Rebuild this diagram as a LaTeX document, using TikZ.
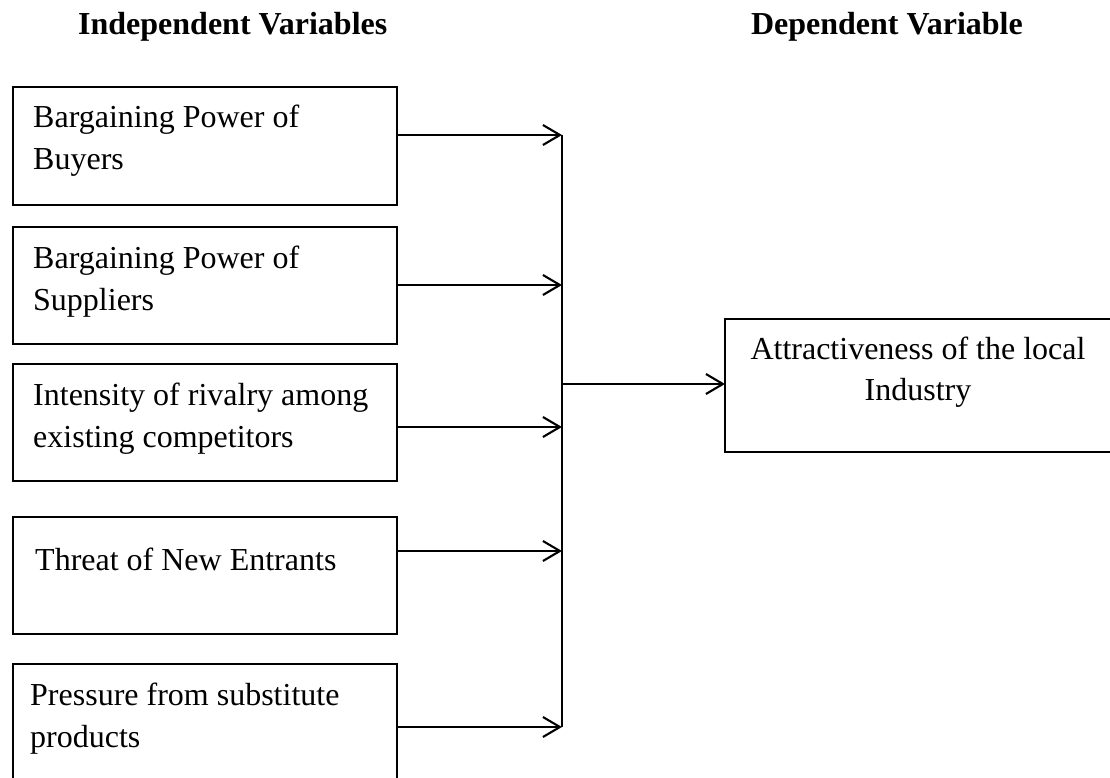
\documentclass[tikz,border=0pt]{standalone}
\usepackage{fontspec}
\setmainfont{Liberation Serif}
\usetikzlibrary{arrows.meta}
\begin{document}
\begin{tikzpicture}[x=1pt,y=-1pt,
  box/.style={draw=black,line width=2.1pt,rectangle,inner sep=0pt,outer sep=0pt},
  lbl/.style={anchor=base west,inner sep=0pt,font=\fontsize{32}{42}\selectfont},
  clbl/.style={anchor=base,inner sep=0pt,font=\fontsize{32}{42}\selectfont},
  head/.style={inner sep=0pt,font=\fontsize{32}{42}\selectfont\bfseries},
  arr/.style={line width=2.1pt,-{Straight Barb[length=17pt,width=20pt,line width=2.1pt]}},
  bus/.style={line width=2.1pt}]
\clip (0,0) rectangle (1110,778);
% boxes
\node[box,minimum width=384pt,minimum height=118pt,anchor=north west] (b1) at (13,87) {};
\node[box,minimum width=384pt,minimum height=117pt,anchor=north west] (b2) at (13,227) {};
\node[box,minimum width=384pt,minimum height=117pt,anchor=north west] (b3) at (13,364) {};
\node[box,minimum width=384pt,minimum height=117pt,anchor=north west] (b4) at (13,517) {};
\node[box,minimum width=384pt,minimum height=117pt,anchor=north west] (b5) at (13,664) {};
\node[box,minimum width=392pt,minimum height=133pt,anchor=north west] (dv) at (725,319) {};
% texts
\node[head,anchor=base west] (h1) at (78,35) {Independent Variables};
\node[head,anchor=base east] (h2) at (1023,35) {Dependent Variable};
\node[lbl] (t1a) at (33,128) {Bargaining Power of};
\node[lbl] (t1b) at (33,170) {Buyers};
\node[lbl] (t2a) at (33,268) {Bargaining Power of};
\node[lbl] (t2b) at (33,310) {Suppliers};
\node[lbl] (t3a) at (33,405) {Intensity of rivalry among};
\node[lbl] (t3b) at (33,447) {existing competitors};
\node[lbl] (t4a) at (35,570) {Threat of New Entrants};
\node[lbl] (t5a) at (30,705) {Pressure from substitute};
\node[lbl] (t5b) at (30,747) {products};
\node[clbl] (ta) at (918,359) {Attractiveness of the local};
\node[clbl] (tb) at (918,400) {Industry};
% bus junctions
\coordinate (j1) at (562,135);
\coordinate (j2) at (562,285);
\coordinate (j3) at (562,427);
\coordinate (j4) at (562,551);
\coordinate (j5) at (562,727);
\coordinate (jo) at (562,384);
% connectors
\draw[arr] (b1.east |- j1) -- (j1);
\draw[arr] (b2.east |- j2) -- (j2);
\draw[arr] (b3.east |- j3) -- (j3);
\draw[arr] (b4.east |- j4) -- (j4);
\draw[arr] (b5.east |- j5) -- (j5);
\draw[bus] (j1) -- (j5);
\draw[arr] (jo) -- (dv.west |- jo);
\end{tikzpicture}
\end{document}
